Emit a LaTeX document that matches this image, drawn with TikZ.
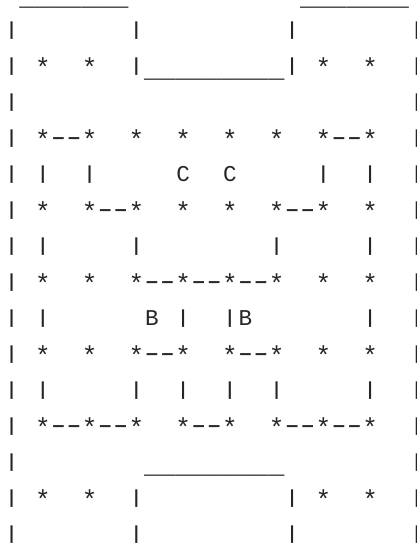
\documentclass[tikz,border=0pt]{standalone}
\usepackage{graphicx}
\usepackage{fontspec}
\setmonofont{Liberation Mono}
% glyph helpers: keep the characters, tune their size to the reference face
\newcommand\vb{\raisebox{2.32pt}{\scalebox{1}[0.727]{|}}}
\newcommand\st{\raisebox{-2.6pt}{*}}
\newcommand\us{\raisebox{-3.8pt}{\_}}
\newcommand\hy{\makebox[0.6em][c]{\scalebox{1.5}[1]{-}}}
\newcommand\lt[1]{\makebox[0.6em][c]{\scalebox{0.87}{#1}}}
\tikzset{asciirow/.style={anchor=base west, inner sep=0pt, outer sep=0pt, text=black!85,
  font=\ttfamily\fontsize{25.97}{36}\selectfont}}
\begin{document}
\begin{tikzpicture}[x=1pt,y=1pt]
\useasboundingbox (0,0) rectangle (417,546);
\node[asciirow] (r0)  at (3.9,544.3) {~\us\us\us\us\us\us\us~~~~~~~~~~~\us\us\us\us\us\us\us};
\node[asciirow] (r1)  at (3.9,508.3) {\vb~~~~~~~\vb~~~~~~~~~\vb~~~~~~~\vb};
\node[asciirow] (r2)  at (3.9,472.3) {\vb~\st~~\st~~\vb\us\us\us\us\us\us\us\us\us\vb~\st~~\st~~\vb};
\node[asciirow] (r3)  at (3.9,436.3) {\vb~~~~~~~~~~~~~~~~~~~~~~~~~\vb};
\node[asciirow] (r4)  at (3.9,400.3) {\vb~\st\hy\hy\st~~\st~~\st~~\st~~\st~~\st\hy\hy\st~~\vb};
\node[asciirow] (r5)  at (3.9,364.3) {\vb~\vb~~\vb~~~~~\lt{C}~~\lt{C}~~~~~\vb~~\vb~~\vb};
\node[asciirow] (r6)  at (3.9,328.3) {\vb~\st~~\st\hy\hy\st~~\st~~\st~~\st\hy\hy\st~~\st~~\vb};
\node[asciirow] (r7)  at (3.9,292.3) {\vb~\vb~~~~~\vb~~~~~~~~\vb~~~~~\vb~~\vb};
\node[asciirow] (r8)  at (3.9,256.3) {\vb~\st~~\st~~\st\hy\hy\st\hy\hy\st\hy\hy\st~~\st~~\st~~\vb};
\node[asciirow] (r9)  at (3.9,220.3) {\vb~\vb~~~~~~\lt{B}~\vb~~\vb\lt{B}~~~~~~~\vb~~\vb};
\node[asciirow] (r10) at (3.9,184.3) {\vb~\st~~\st~~\st\hy\hy\st~~\st\hy\hy\st~~\st~~\st~~\vb};
\node[asciirow] (r11) at (3.9,148.3) {\vb~\vb~~~~~\vb~~\vb~~\vb~~\vb~~~~~\vb~~\vb};
\node[asciirow] (r12) at (3.9,112.3) {\vb~\st\hy\hy\st\hy\hy\st~~\st\hy\hy\st~~\st\hy\hy\st\hy\hy\st~~\vb};
\node[asciirow] (r13) at (3.9,76.3)  {\vb~~~~~~~~\us\us\us\us\us\us\us\us\us~~~~~~~~\vb};
\node[asciirow] (r14) at (3.9,40.3)  {\vb~\st~~\st~~\vb~~~~~~~~~\vb~\st~~\st~~\vb};
\node[asciirow] (r15) at (3.9,4.3)   {\vb~~~~~~~\vb~~~~~~~~~\vb~~~~~~~\vb};
\end{tikzpicture}
\end{document}
